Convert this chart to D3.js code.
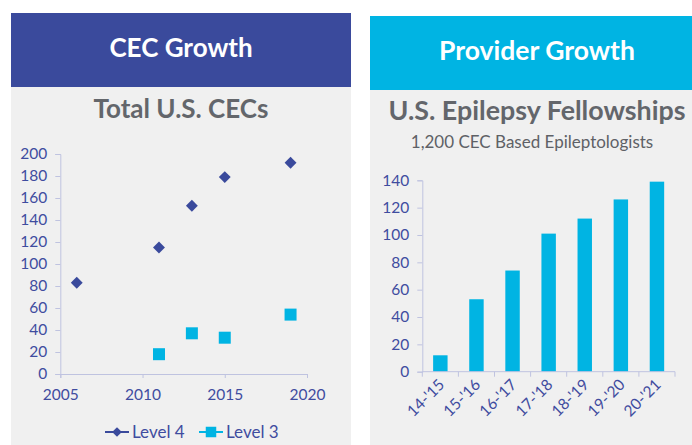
<!DOCTYPE html>
<html>
<head>
<meta charset="utf-8">
<script src="https://cdn.jsdelivr.net/npm/d3@7"></script>
<style>
  body { margin: 0; background: #fff; }
  svg { display: block; font-family: Lato, "Open Sans", sans-serif; }
</style>
</head>
<body>
<div id="chart"></div>
<script>
// CEC growth (scatter)
var level4Years = [2006, 2011, 2013, 2015, 2019];
var level4Values = [83, 115, 153, 179, 192];
var level3Years = [2011, 2013, 2015, 2019];
var level3Values = [18, 37, 33, 54];
var scatterXTicks = [2005, 2010, 2015, 2020];
var scatterYTicks = [0, 20, 40, 60, 80, 100, 120, 140, 160, 180, 200];

// fellowships (bars)
var seasons = ["14-'15", "15-'16", "16-'17", "17-'18", "18-'19", "19-'20", "20-'21"];
var fellows = [12, 53, 74, 101, 112, 126, 139];
var barYTicks = [0, 20, 40, 60, 80, 100, 120, 140];

var navy = "#3a4a9c";
var cyan = "#00b4e3";
var panelGray = "#f0f0f0";
var axisColor = "#bfc3e0";
var tickText = "#3f4c9f";
var titleGray = "#63666b";

var svg = d3.select("#chart")
    .append("svg")
    .attr("width", 692)
    .attr("height", 445);

// ---- left panel ----
svg.append("rect").attr("x", 11).attr("y", 87).attr("width", 340).attr("height", 358).attr("fill", panelGray);
svg.append("rect").attr("x", 11).attr("y", 13).attr("width", 340).attr("height", 74).attr("fill", navy);
svg.append("text").attr("x", 181).attr("y", 57).attr("text-anchor", "middle")
    .attr("font-size", 26).attr("font-weight", "bold").attr("fill", "#fff").text("CEC Growth");
svg.append("text").attr("x", 181).attr("y", 118).attr("text-anchor", "middle")
    .attr("font-size", 26).attr("font-weight", "bold").attr("fill", titleGray).text("Total U.S. CECs");

var x = d3.scaleLinear().domain([2005, 2020]).range([60.3, 307]);
var y = d3.scaleLinear().domain([0, 200]).range([374, 154]);

var gx = svg.append("g").attr("transform", "translate(0,374)")
    .call(d3.axisBottom(x).tickValues(scatterXTicks).tickFormat(d3.format("d")).tickSizeOuter(0).tickSize(4).tickPadding(11));
var gy = svg.append("g").attr("transform", "translate(60.3,0)")
    .call(d3.axisLeft(y).tickValues(scatterYTicks).tickSizeOuter(0).tickSize(5).tickPadding(8));
[gx, gy].forEach(function (g) {
    g.select(".domain").attr("stroke", axisColor);
    g.selectAll(".tick line").attr("stroke", axisColor);
    g.selectAll(".tick text").attr("fill", tickText).attr("font-size", 15.5).attr("font-family", "Lato, sans-serif");
});

var diamond = d3.symbol().type(d3.symbolDiamond2).size(90);
var square = d3.symbol().type(d3.symbolSquare).size(144);

svg.append("g").selectAll("path")
    .data(level4Years)
    .enter()
    .append("path")
    .attr("d", diamond)
    .attr("transform", function (d, i) { return "translate(" + x(d) + "," + y(level4Values[i]) + ")"; })
    .attr("fill", navy);

svg.append("g").selectAll("path")
    .data(level3Years)
    .enter()
    .append("path")
    .attr("d", square)
    .attr("transform", function (d, i) { return "translate(" + x(d) + "," + y(level3Values[i]) + ")"; })
    .attr("fill", cyan);

// legend
var legend = [
    { name: "Level 4", color: navy, x: 105 },
    { name: "Level 3", color: cyan, x: 199 }
];
var lg = svg.append("g").selectAll("g")
    .data(legend)
    .enter()
    .append("g")
    .attr("transform", function (d) { return "translate(" + d.x + ",432)"; });
lg.append("line").attr("x1", 0).attr("x2", 24).attr("stroke", function (d) { return d.color; }).attr("stroke-width", 2);
lg.append("path").attr("d", function (d, i) { return i === 0 ? d3.symbol().type(d3.symbolDiamond2).size(60)() : d3.symbol().type(d3.symbolSquare).size(110)(); })
    .attr("transform", "translate(12,0)").attr("fill", function (d) { return d.color; });
lg.append("text").attr("x", 27).attr("y", 6).attr("font-size", 17).attr("fill", tickText).text(function (d) { return d.name; });

// ---- right panel ----
svg.append("rect").attr("x", 370).attr("y", 90).attr("width", 322).attr("height", 355).attr("fill", panelGray);
svg.append("rect").attr("x", 370).attr("y", 16).attr("width", 322).attr("height", 74).attr("fill", cyan);
svg.append("text").attr("x", 537).attr("y", 60).attr("text-anchor", "middle")
    .attr("font-size", 26.5).attr("font-weight", "bold").attr("fill", "#fff").text("Provider Growth");
svg.append("text").attr("x", 537).attr("y", 120).attr("text-anchor", "middle")
    .attr("font-size", 26.8).attr("font-weight", "bold").attr("fill", titleGray).text("U.S. Epilepsy Fellowships");
svg.append("text").attr("x", 532).attr("y", 148).attr("text-anchor", "middle")
    .attr("font-size", 17).attr("fill", "#5e6166").text("1,200 CEC Based Epileptologists");

var xb = d3.scaleBand().domain(seasons).range([422.3, 675]).paddingInner(0.6).paddingOuter(0.3);
var yb = d3.scaleLinear().domain([0, 140]).range([371.7, 180.3]);

svg.append("g").selectAll("rect")
    .data(fellows)
    .enter()
    .append("rect")
    .attr("x", function (d, i) { return xb(seasons[i]); })
    .attr("y", function (d) { return yb(d); })
    .attr("width", xb.bandwidth())
    .attr("height", function (d) { return yb(0) - yb(d); })
    .attr("fill", cyan);

var gyb = svg.append("g").attr("transform", "translate(422.3,0)")
    .call(d3.axisLeft(yb).tickValues(barYTicks).tickSizeOuter(0).tickSize(5).tickPadding(8));
var step = xb.step();
var gxb = svg.append("g").attr("transform", "translate(0,371.7)");
gxb.append("line").attr("x1", 422.3).attr("x2", 675).attr("stroke", axisColor);
gxb.selectAll(".tk")
    .data(d3.range(seasons.length + 1))
    .enter()
    .append("line")
    .attr("x1", function (d) { return 422.3 + d * step; })
    .attr("x2", function (d) { return 422.3 + d * step; })
    .attr("y2", 5)
    .attr("stroke", axisColor);
gxb.selectAll("text")
    .data(seasons)
    .enter()
    .append("text")
    .attr("transform", function (d) { return "translate(" + (xb(d) + xb.bandwidth() / 2 + 5) + ",14) rotate(-45)"; })
    .attr("text-anchor", "end")
    .attr("font-size", 15.5)
    .attr("fill", tickText)
    .text(function (d) { return d; });

gyb.select(".domain").attr("stroke", axisColor);
gyb.selectAll(".tick line").attr("stroke", axisColor);
gyb.selectAll(".tick text").attr("fill", tickText).attr("font-size", 15.5).attr("font-family", "Lato, sans-serif");
</script>
</body>
</html>
